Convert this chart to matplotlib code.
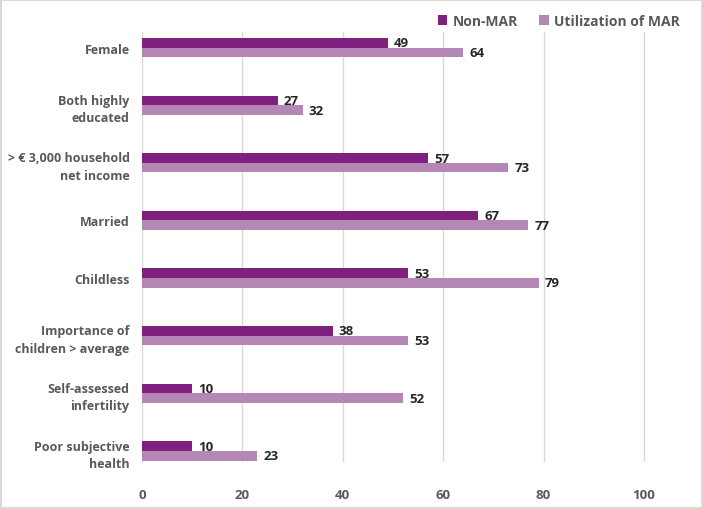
import numpy as np
import matplotlib.pyplot as plt

plt.rcParams["font.family"] = ["Open Sans", "DejaVu Sans"]

categories = ['Female', 'Both highly\neducated', '> € 3,000 household\nnet income', 'Married',
              'Childless', 'Importance of\nchildren > average', 'Self-assessed\ninfertility',
              'Poor subjective\nhealth']
non_mar = [49, 27, 57, 67, 53, 38, 10, 10]
util_mar = [64, 32, 73, 77, 79, 53, 52, 23]
xticks = [0, 20, 40, 60, 80, 100]

dark = '#7F1F7E'
light = '#B587B4'
grey = '#595959'

fig = plt.figure(figsize=(7.03, 5.10), dpi=100)
fig.patch.set_edgecolor('#D9D9D9')
fig.patch.set_linewidth(1.5)
ax = fig.add_axes([0.202, 0.0922, 0.7354, 0.8431])

y = np.arange(len(categories))
h = 0.167
b1 = ax.barh(y - h / 2, non_mar, height=h, color=dark, label='Non-MAR', zorder=3)
b2 = ax.barh(y + h / 2, util_mar, height=h, color=light, label='Utilization of MAR', zorder=3)

# value labels next to bar ends
for bars in (b1, b2):
    for bar in bars:
        w = bar.get_width()
        ax.text(w + 1.2, bar.get_y() + bar.get_height() / 2, f'{int(w)}',
                va='center', ha='left', fontsize=9.5, fontweight='bold', color='#262626')

ax.set_xlim(0, 103)
ax.set_ylim(7.19, -0.27)
ax.set_xticks(xticks)
ax.set_yticks(y)
ax.set_yticklabels(categories, fontsize=9, fontweight='bold', color=grey, linespacing=1.45)
ax.set_xticklabels([str(t) for t in xticks], fontsize=9.5, fontweight='bold', color=grey)
ax.tick_params(axis='x', length=0, pad=19)
ax.tick_params(axis='y', length=0, pad=9)
ax.grid(axis='x', color='#D9D9D9', linewidth=1, zorder=0)
for s in ax.spines.values():
    s.set_visible(False)

fig.legend(loc='upper right', bbox_to_anchor=(0.985, 0.995), ncol=2, frameon=False,
           prop={'size': 10, 'weight': 'bold'}, labelcolor=grey, handlelength=0.7,
           handleheight=0.7, handletextpad=0.4, columnspacing=1.5)

fig.savefig('out.png', dpi=100)
